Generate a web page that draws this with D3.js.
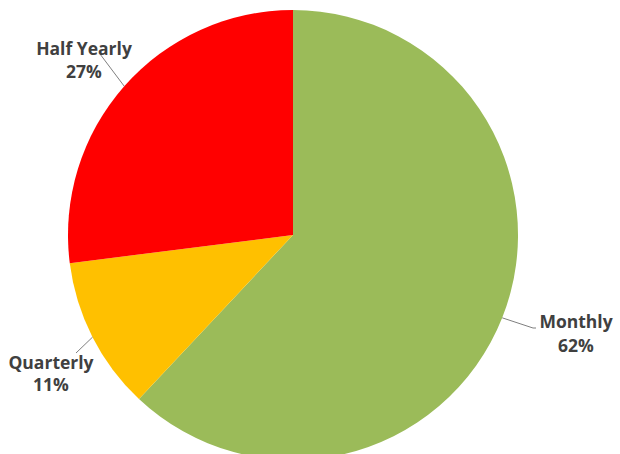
<!DOCTYPE html>
<html><head><meta charset="utf-8">
<script src="https://cdn.jsdelivr.net/npm/d3@7"></script>
<style>body{margin:0;background:#fff}svg{display:block}</style>
</head><body>
<script>
const categories = ["Monthly", "Quarterly", "Half Yearly"];
const values = [62, 11, 27];
const colors = ["#9BBB59", "#FFC000", "#FF0000"];

const W = 620, H = 454, cx = 293, cy = 235, R = 225;
const svg = d3.select("body").append("svg").attr("width", W).attr("height", H);
const g = svg.append("g").attr("transform", `translate(${cx},${cy})`);

const pie = d3.pie().sort(null).value(d => d.v);
const data = categories.map((c, i) => ({c, v: values[i], col: colors[i]}));
const arcs = pie(data);
const arc = d3.arc().innerRadius(0).outerRadius(R);

g.selectAll("path.slice").data(arcs).enter().append("path")
  .attr("class", "slice").attr("d", arc).attr("fill", d => d.data.col);

// label layout (absolute positions relative to svg)
const layout = {
  "Monthly":     {x: 576, y1: 328, y2: 352, lx: 533, ly: 328, hx: 536},
  "Quarterly":   {x: 51,  y1: 369, y2: 391, lx: 76,  ly: 353},
  "Half Yearly": {x: 84,  y1: 55,  y2: 78,  lx: 100, ly: 54}
};
const total = d3.sum(values);
arcs.forEach(a => {
  const L = layout[a.data.c];
  const mid = (a.startAngle + a.endAngle) / 2;
  const ex = cx + R * Math.sin(mid), ey = cy - R * Math.cos(mid);
  const pts = [[ex, ey], [L.lx, L.ly]];
  if (L.hx) pts.push([L.hx, L.ly]);
  svg.append("path").attr("d", d3.line()(pts)).attr("fill", "none")
    .attr("stroke", "#7f7f7f").attr("stroke-width", 1);
  const t = svg.append("text").attr("text-anchor", "middle")
    .attr("font-family", "'Open Sans', 'Liberation Sans', sans-serif")
    .attr("font-weight", "bold").attr("font-size", 17.5).attr("fill", "#404040");
  t.append("tspan").attr("x", L.x).attr("y", L.y1).text(a.data.c);
  t.append("tspan").attr("x", L.x).attr("y", L.y2).text(Math.round(a.data.v / total * 100) + "%");
});
</script>
</body></html>
